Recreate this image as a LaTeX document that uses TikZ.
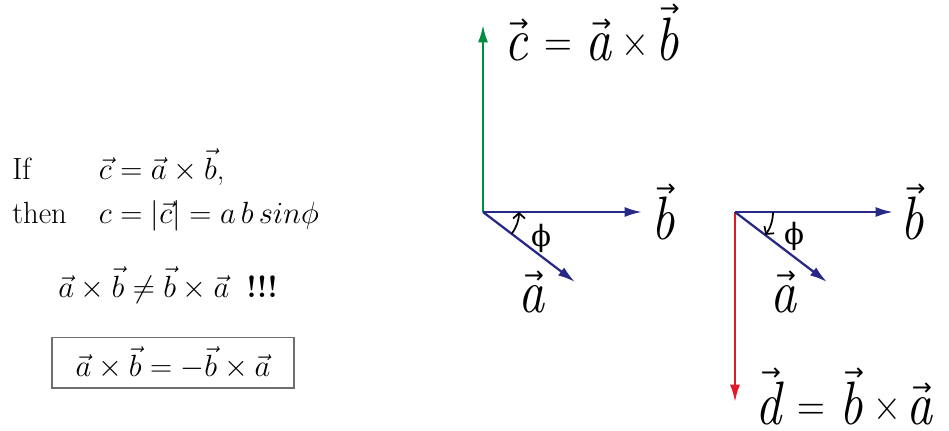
\RequirePackage{fix-cm}
\documentclass[tikz,border=0pt]{standalone}
\usepackage{fontspec}
\usepackage{tikz}
\usetikzlibrary{positioning,arrows.meta}
\newfontfamily\tnr[FakeStretch=0.85]{Latin Modern Roman}
\newfontfamily\arrowfont{DejaVu Sans}
\newfontfamily\phifont{DejaVu Serif}
\definecolor{navy}{RGB}{40,40,135}
\definecolor{vgreen}{RGB}{0,140,65}
\definecolor{vred}{RGB}{225,25,40}
\definecolor{frame}{RGB}{110,110,110}
% letter with a small arrow over it
\newcommand{\tv}[1]{\leavevmode\vbox{\offinterlineskip\halign{\hfil##\hfil\cr
  \kern4pt{\arrowfont\fontsize{18}{18}\selectfont →}\cr\noalign{\kern1pt}\itshape #1\cr}}}
% smaller = and x between the letters
\newcommand{\opsym}[1]{\raisebox{2.5pt}{\fontsize{34}{34}\selectfont #1}}

\tikzset{
  vecline/.style={line width=1.7pt, -{Latex[length=13pt,width=7.5pt]}},
  anglearc/.style={line width=1.3pt, -{Straight Barb[length=4pt,width=9pt]}},
  lbl/.style={font=\tnr\fontsize{46}{50}\selectfont, inner sep=0pt},
  philbl/.style={font=\phifont\fontsize{22}{24}\selectfont, inner sep=0pt},
}

\begin{document}
\begin{tikzpicture}[x=0.75pt,y=0.75pt,font=\fontsize{23}{33}\selectfont]
\useasboundingbox (0,0) rectangle (949,430);
% left: the rules
\node[anchor=base west, inner sep=0pt] (ifthen) at (12,251) {\begin{tabular}[t]{@{}l@{\hspace{24pt}}l@{}}If & $\vec c=\vec a\times\vec b$,\\ then & $c=|\vec c|=a\,b\,sin\phi$\end{tabular}};
\node[anchor=base west, inner sep=0pt] (neq) at (58,133) {$\vec a\times\vec b\neq\vec b\times\vec a$\;\;\textbf{!!!}};
\node[draw=frame, line width=1pt, minimum width=181.5pt, minimum height=38pt] (box) at (173,67.5) {$\vec a\times\vec b=-\vec b\times\vec a$};

% c = a x b
\coordinate (O1) at (483,218); \coordinate (C) at (483,405);
\coordinate (B1) at (642,218); \coordinate (A1) at (575,148);
\draw[vecline, vgreen] (O1) -- (C);
\draw[vecline, navy] (O1) -- (B1);
\draw[vecline, navy] (O1) -- (A1);
\draw[anglearc] (O1) ++(-37:36) arc[start angle=-37, end angle=0, radius=36];
\node[lbl, anchor=base west] (clab) at (503,370) {\tv{c}\hspace{12pt}\opsym{=}\hspace{10pt}\tv{a}\hspace{7pt}\opsym{×}\hspace{4pt}\tv{b}};
\node[lbl, right=6pt of B1] (b1lab) {\tv{b}};
\node[lbl, anchor=base west] (a1lab) at (518,118) {\tv{a}};
\node[philbl] (phi1) at (541,192) {ϕ};

% d = b x a
\coordinate (O2) at (735,218); \coordinate (D) at (735,28);
\coordinate (B2) at (893,218); \coordinate (A2) at (827,148);
\draw[vecline, vred] (O2) -- (D);
\draw[vecline, navy] (O2) -- (B2);
\draw[vecline, navy] (O2) -- (A2);
\draw[anglearc] (O2) ++(0:38) arc[start angle=0, end angle=-37, radius=38];
\node[lbl, right=5pt of B2] (b2lab) {\tv{b}};
\node[lbl, anchor=base west] (a2lab) at (770,118) {\tv{a}};
\node[philbl] (phi2) at (794,194) {ϕ};
\node[lbl, anchor=base west] (dlab) at (755,6) {\tv{d}\hspace{12pt}\opsym{=}\hspace{10pt}\tv{b}\hspace{7pt}\opsym{×}\hspace{4pt}\tv{a}};
\end{tikzpicture}
\end{document}
